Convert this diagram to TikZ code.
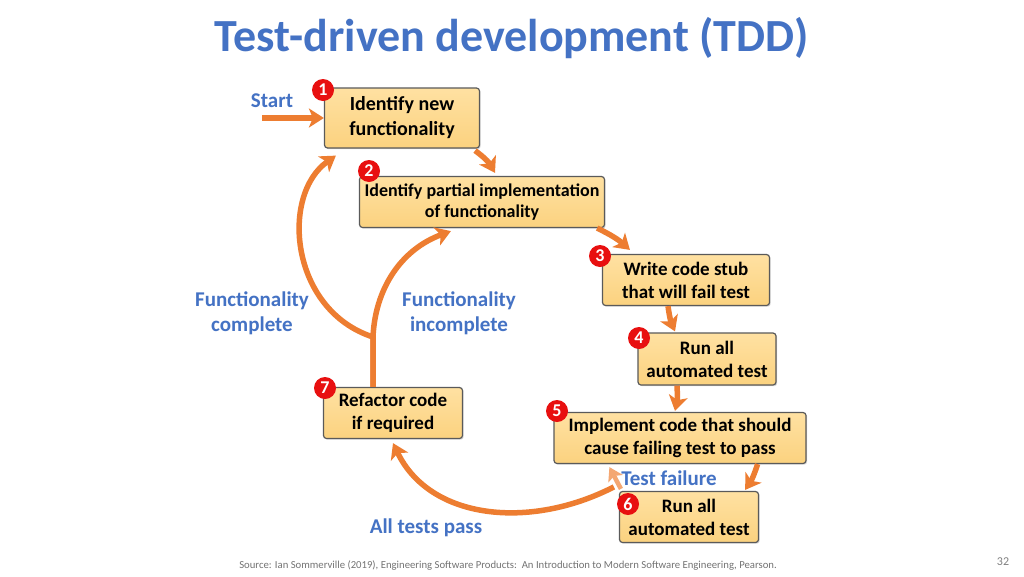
\documentclass[tikz,border=0pt]{standalone}
\usepackage{fontspec}
\setmainfont{Carlito}
\usetikzlibrary{arrows.meta,shadows}
\definecolor{tddblue}{HTML}{4472C4}
\definecolor{tddorange}{HTML}{ED7D31}
\definecolor{tddlight}{HTML}{F4A772}
\definecolor{boxtop}{HTML}{FFE1A2}
\definecolor{boxbot}{HTML}{FBD27F}
\definecolor{boxline}{HTML}{5A5A5A}
\definecolor{badgered}{HTML}{E81010}
\begin{document}
\begin{tikzpicture}[x=1pt,y=-1pt,
		stepbox/.style={draw=boxline,line width=1.2pt,rounded corners=3pt,top color=boxtop,bottom color=boxbot,
			align=center,inner sep=0pt,font=\fontsize{19}{23}\selectfont\bfseries,
			drop shadow={opacity=0.3,shadow xshift=1.2pt,shadow yshift=-1.2pt}},
		badge/.style={circle,fill=badgered,text=white,inner sep=0pt,minimum size=22pt,font=\fontsize{18}{18}\selectfont\bfseries},
		note/.style={text=tddblue,align=center,font=\fontsize{21}{25}\selectfont\bfseries},
		flow/.style={draw=tddorange,line width=5.5pt,-{Stealth[length=15pt,width=19pt,inset=4pt]}},
		retry/.style={draw=tddlight,line width=4.5pt,-{Stealth[length=13pt,width=16pt,inset=3pt]}}]
	\fill [white] (0,0) rectangle (1024,576);
	\useasboundingbox (0,0) rectangle (1024,576);
	\node [text=tddblue,font=\fontsize{46}{46}\selectfont\bfseries] (title) at (512,38) {Test-driven development (TDD)};
	% the seven steps
	\node [stepbox,minimum width=155pt,minimum height=60pt,font=\fontsize{20}{25}\selectfont\bfseries] (n1) at (402,118) {Identify new\\functionality};
	\node [stepbox,minimum width=245pt,minimum height=51pt,font=\fontsize{18}{21}\selectfont\bfseries] (n2) at (482,202) {Identify partial implementation\\of functionality};
	\node [stepbox,minimum width=167pt,minimum height=51pt] (n3) at (686,280) {Write code stub\\that will fail test};
	\node [stepbox,minimum width=138pt,minimum height=52pt] (n4) at (707,359) {Run all\\automated test};
	\node [stepbox,minimum width=252pt,minimum height=51pt] (n5) at (680,438) {Implement code that should\\cause failing test to pass};
	\node [stepbox,minimum width=139pt,minimum height=51pt] (n6) at (689,517) {Run all\\automated test};
	\node [stepbox,minimum width=139pt,minimum height=51pt] (n7) at (393,413) {Refactor code\\if required};
	\node [badge] (b1) at (323,90) {1};
	\node [badge] (b2) at (369,171) {2};
	\node [badge] (b3) at (600,256) {3};
	\node [badge] (b4) at (639,338) {4};
	\node [badge] (b5) at (557,411) {5};
	\node [badge] (b6) at (628,504) {6};
	\node [badge] (b7) at (325,388) {7};
	% labels
	\node [note] (start) at (272,101) {Start};
	\node [note] (fc) at (252,313) {Functionality\\complete};
	\node [note] (fi) at (459,313) {Functionality\\incomplete};
	\node [note] (fail) at (669,478) {Test failure};
	\node [note] (pass) at (426,528) {All tests pass};
	% arrows
	\coordinate (s0) at (262,118);
	\coordinate (split) at (373,337);
	\draw [flow] (s0) -- (n1.west);
	\draw [flow] ([xshift=-5pt,yshift=-2pt]n1.south east) to[bend left=12] ([xshift=13pt,yshift=3pt]n2.north);
	\draw [flow] ([xshift=-8pt]n2.south east) to[bend left=8] ([xshift=28pt,yshift=4pt]n3.north west);
	\draw [flow] ([xshift=-18pt]n3.south) to[bend right=8] ([xshift=-32pt,yshift=1pt]n4.north);
	\draw [flow] ([xshift=-30pt]n4.south) to[bend left=8] ([xshift=-5pt,yshift=1pt]n5.north);
	\draw [flow] ([xshift=-49pt]n5.south east) to[bend left=8] ([xshift=-14pt,yshift=1pt]n6.north east);
	\draw [retry] ([xshift=2pt,yshift=2pt]n6.north west) -- ([xshift=56pt,yshift=-3pt]n5.south west);
	\draw [flow] ([xshift=-5pt,yshift=4pt]n6.north west) .. controls (530,530) and (430,520) .. ([yshift=-4pt]n7.south);
	\draw [flow] ([xshift=-20pt]n7.north) -- (split) .. controls (290,310) and (280,195) .. ([xshift=12pt,yshift=-7pt]n1.south west);
	\draw [flow] ([xshift=-20pt]n7.north) -- (split) .. controls (375,290) and (400,250) .. ([xshift=92pt,yshift=-3pt]n2.south west);
	% footer
	\node [text=black!55,font=\fontsize{10.7}{11}\selectfont] (src) at (508,565) {Source: Ian Sommerville (2019), Engineering Software Products:\ \ An Introduction to Modern Software Engineering, Pearson.};
	\node [text=black!50,font=\fontsize{12}{12}\selectfont] (page) at (1003,562) {32};
\end{tikzpicture}
\end{document}
